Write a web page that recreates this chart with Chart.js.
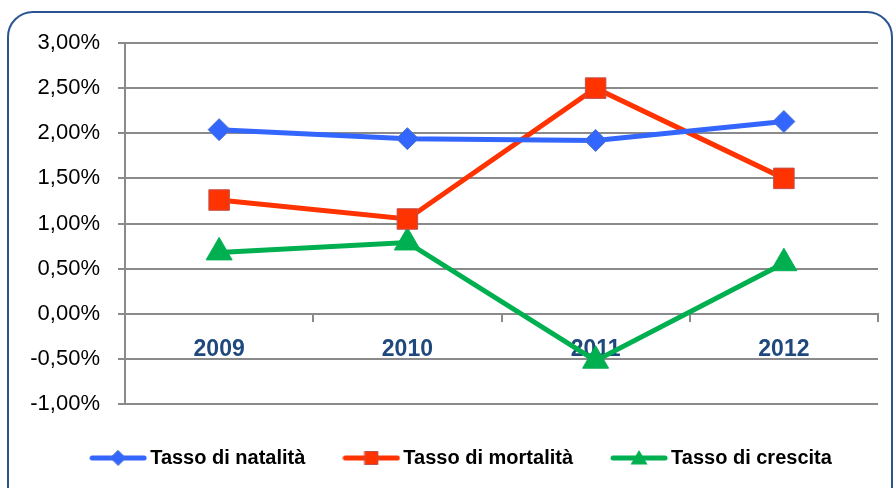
<!DOCTYPE html>
<html>
<head>
<meta charset="utf-8">
<script src="https://cdn.jsdelivr.net/npm/chart.js@4.4.1/dist/chart.umd.min.js"></script>
<style>
  html, body { margin: 0; padding: 0; background: #fff; }
  #wrap { position: relative; width: 896px; height: 488px; overflow: hidden; }
  #frame {
    position: absolute; left: 7px; top: 11px; width: 886px; height: 540px;
    border: 2.5px solid #2A5591; border-radius: 26px; box-sizing: border-box;
    pointer-events: none;
  }
  canvas { position: absolute; left: 0; top: 0; }
</style>
</head>
<body>
<div id="wrap">
  <canvas id="chart" width="896" height="488"></canvas>
  <div id="frame"></div>
</div>
<script>
// Chart data
const years = ['2009', '2010', '2011', '2012'];
const natalita = [2.04, 1.94, 1.92, 2.13];
const mortalita = [1.26, 1.05, 2.50, 1.50];
const crescita = [0.68, 0.79, -0.52, 0.56];
const seriesNames = ['Tasso di natalità', 'Tasso di mortalità', 'Tasso di crescita'];
const yMin = -1;
const yMax = 3;
const yStep = 0.5;

const GRID = '#8A8A8A';
const BLUE = '#3366FF';
const RED = '#FF3300';
const GREEN = '#00B050';

// Format percent the Italian way: 2,50%
function formatPercent(v) {
    return v.toFixed(2).replace('.', ',') + '%';
}

// Build a small legend icon: line with marker in the middle
function legendIcon(color, border, shape) {
    const c = document.createElement('canvas');
    c.width = 58;
    c.height = 20;
    const g = c.getContext('2d');
    g.strokeStyle = color;
    g.lineWidth = 5;
    g.lineCap = 'round';
    g.beginPath();
    g.moveTo(3, 10);
    g.lineTo(55, 10);
    g.stroke();

    g.fillStyle = color;
    g.strokeStyle = border;
    g.lineWidth = 1;
    g.beginPath();
    if (shape === 'diamond') {
        g.moveTo(29, 2.5); g.lineTo(36.5, 10); g.lineTo(29, 17.5); g.lineTo(21.5, 10);
    } else if (shape === 'square') {
        g.rect(22.5, 3.5, 13, 13);
    } else {
        g.moveTo(29, 2); g.lineTo(37.5, 16.5); g.lineTo(20.5, 16.5);
    }
    g.closePath();
    g.fill();
    if (shape !== 'triangle') g.stroke();
    return c;
}

const legendIcons = [
    legendIcon(BLUE, '#4A72C8', 'diamond'),
    legendIcon(RED, '#C0504D', 'square'),
    legendIcon(GREEN, GREEN, 'triangle')
];

// Nudge the centred legend a bit to the right, like the original
const legendShift = {
    id: 'legendShift',
    beforeDraw(chart) {
        if (chart.legend) chart.legend.left = 50;
    }
};

const ctx = document.getElementById('chart');

new Chart(ctx, {
    type: 'line',
    data: {
        labels: years,
        datasets: [{
            label: seriesNames[0],
            data: natalita,
            borderColor: BLUE,
            backgroundColor: BLUE,
            borderWidth: 5,
            pointStyle: 'rectRot',
            pointRadius: 11,
            pointBorderColor: '#4A72C8',
            pointBorderWidth: 1,
            tension: 0
        }, {
            label: seriesNames[1],
            data: mortalita,
            borderColor: RED,
            backgroundColor: RED,
            borderWidth: 5,
            pointStyle: 'rect',
            pointRadius: 14.5,
            pointBorderColor: '#C0504D',
            pointBorderWidth: 1,
            tension: 0
        }, {
            label: seriesNames[2],
            data: crescita,
            borderColor: GREEN,
            backgroundColor: GREEN,
            borderWidth: 5,
            pointStyle: 'triangle',
            pointRadius: 15,
            pointBorderColor: GREEN,
            pointBorderWidth: 1,
            tension: 0
        }]
    },
    options: {
        responsive: false,
        animation: false,
        layout: {
            padding: { left: 0, right: 18, top: 43, bottom: 10 }
        },
        plugins: {
            tooltip: { enabled: false },
            legend: {
                display: true,
                position: 'bottom',
                labels: {
                    usePointStyle: true,
                    pointStyleWidth: 44,
                    padding: 44,
                    color: '#000',
                    font: { family: '"Liberation Sans", Arial, sans-serif', size: 20, weight: 'bold' },
                    generateLabels: function (chart) {
                        return Chart.defaults.plugins.legend.labels.generateLabels(chart)
                            .map((item, i) => Object.assign(item, { pointStyle: legendIcons[i] }));
                    }
                }
            }
        },
        scales: {
            x: {
                position: { y: 0 },
                offset: true,
                grid: {
                    drawOnChartArea: false,
                    drawTicks: true,
                    tickLength: 7,
                    offset: true,
                    color: GRID,
                    lineWidth: 2
                },
                border: { display: true, color: GRID, width: 2 },
                ticks: {
                    padding: 15,
                    color: '#1F497D',
                    font: { family: '"Liberation Sans", Arial, sans-serif', size: 23, weight: 'bold' }
                }
            },
            y: {
                min: yMin,
                max: yMax,
                afterFit: function (scale) {
                    scale.width = 125;
                },
                grid: {
                    color: GRID,
                    lineWidth: 2,
                    tickLength: 7
                },
                border: { display: true, color: GRID, width: 2 },
                ticks: {
                    stepSize: yStep,
                    padding: 18,
                    color: '#000',
                    font: { family: '"Liberation Sans", Arial, sans-serif', size: 22 },
                    callback: function (value) {
                        return formatPercent(value);
                    }
                }
            }
        }
    },
    plugins: [legendShift]
});
</script>
</body>
</html>
